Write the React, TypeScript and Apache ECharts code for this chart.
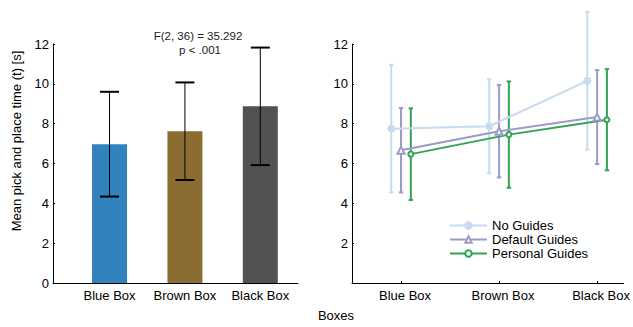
import React, { useEffect, useRef } from "react";
import * as echarts from "echarts";

const categories = ["Blue Box", "Brown Box", "Black Box"];
const barMeans = [6.97, 7.62, 8.87];
const barErrs = [2.63, 2.45, 2.95];
const barColors = ["#3182bd", "#8c6d31", "#525252"];

const seriesNames = ["No Guides", "Default Guides", "Personal Guides"];
const seriesColors = ["#c6dbef", "#9e9ac8", "#31a354"];
const seriesOffsets = [-0.1, 0, 0.1];
const noGuidesMeans = [7.75, 7.87, 10.15];
const noGuidesErrs = [3.2, 2.36, 3.46];
const defaultMeans = [6.67, 7.62, 8.33];
const defaultErrs = [2.12, 2.32, 2.36];
const personalMeans = [6.47, 7.45, 8.2];
const personalErrs = [2.3, 2.67, 2.54];
const yTicks = [0, 2, 4, 6, 8, 10, 12];

const FONT = "Liberation Sans, Arial, sans-serif";
const asterisk =
  "path://M-0.6,-5L0.6,-5L0.6,5L-0.6,5Z M-5,-0.6L5,-0.6L5,0.6L-5,0.6Z M-4,-3.2L-3.2,-4L4,3.2L3.2,4Z M3.2,-4L4,-3.2L-3.2,4L-4,3.2Z";
const symbols = [asterisk, "emptyTriangle", "emptyCircle"];
const symbolSizes = [7, 7, 5];

export default function App() {
  const ref = useRef<HTMLDivElement>(null);
  useEffect(() => {
    if (!ref.current) return;
    const chart = echarts.init(ref.current, undefined, { renderer: "svg" });

    const errRender = (color: string, stemW: number, capHalf: number, capW: number) =>
      (params: any, api: any) => {
        const x = api.value(0);
        const lo = api.value(1);
        const hi = api.value(2);
        const pHi = api.coord([x, hi]);
        const pLo = api.coord([x, lo]);
        return {
          type: "group",
          children: [
            { type: "line", shape: { x1: pHi[0], y1: pHi[1], x2: pLo[0], y2: pLo[1] }, style: { stroke: color, lineWidth: stemW } },
            { type: "line", shape: { x1: pHi[0] - capHalf, y1: pHi[1], x2: pHi[0] + capHalf, y2: pHi[1] }, style: { stroke: color, lineWidth: capW } },
            { type: "line", shape: { x1: pLo[0] - capHalf, y1: pLo[1], x2: pLo[0] + capHalf, y2: pLo[1] }, style: { stroke: color, lineWidth: capW } },
          ],
        };
      };

    const groupMeans = [noGuidesMeans, defaultMeans, personalMeans];
    const groupErrs = [noGuidesErrs, defaultErrs, personalErrs];

    const axisLine = { show: true, lineStyle: { color: "#000", width: 1 } };
    const yAxisBase = {
      type: "value" as const,
      min: 0,
      max: 12,
      interval: 2,
      axisLine,
      axisTick: { show: true, inside: true, length: 2, lineStyle: { color: "#000" } },
      splitLine: { show: false },
    };

    const option: any = {
      animation: false,
      textStyle: { fontFamily: FONT },
      grid: [
        { left: 53, top: 44, width: 245, height: 239 },
        { left: 352, top: 44, width: 280, height: 239 },
      ],
      xAxis: [
        {
          type: "value",
          gridIndex: 0,
          min: 0.25,
          max: 3.5,
          axisLine,
          axisTick: { show: false },
          splitLine: { show: false },
          axisLabel: {
            customValues: [1, 2, 3],
            formatter: (v: number) => categories[Math.round(v) - 1] ?? "",
            fontSize: 13,
            color: "#000",
            fontFamily: FONT,
            margin: 6,
          },
        },
        {
          type: "value",
          gridIndex: 1,
          min: 0.5,
          max: 3.27,
          axisLine,
          axisTick: { show: true, inside: true, length: 2, customValues: [1, 2, 3], lineStyle: { color: "#000" } },
          splitLine: { show: false },
          axisLabel: {
            customValues: [1, 2, 3],
            formatter: (v: number) => categories[Math.round(v) - 1] ?? "",
            fontSize: 13,
            color: "#000",
            fontFamily: FONT,
            margin: 6,
            padding: [0, 0, 0, 8],
          },
        },
      ],
      yAxis: [
        {
          ...yAxisBase,
          gridIndex: 0,
          axisLabel: { fontSize: 13, color: "#000", fontFamily: FONT, margin: 4, formatter: (v: number) => (yTicks.includes(v) ? String(v) : "") },
        },
        {
          ...yAxisBase,
          gridIndex: 1,
          axisLabel: { fontSize: 13, color: "#000", fontFamily: FONT, margin: 4, formatter: (v: number) => (v === 0 ? "" : String(v)) },
        },
      ],
      legend: {
        data: seriesNames,
        orient: "vertical",
        left: 449,
        top: 219,
        padding: 0,
        itemWidth: 37,
        itemHeight: 8,
        itemGap: 1,
        itemTextGap: 6,
        textStyle: { fontSize: 13, color: "#000", fontFamily: FONT },
        selectedMode: false,
      },
      series: [
        {
          type: "bar",
          xAxisIndex: 0,
          yAxisIndex: 0,
          barWidth: 35,
          data: barMeans.map((m, i) => ({ value: [i + 1, m], itemStyle: { color: barColors[i] } })),
          silent: true,
        },
        {
          type: "custom",
          name: "bar-err",
          xAxisIndex: 0,
          yAxisIndex: 0,
          clip: false,
          z: 5,
          renderItem: errRender("#000", 1, 9.5, 2),
          data: barMeans.map((m, i) => [i + 1, m - barErrs[i], m + barErrs[i]]),
          silent: true,
        },
        ...seriesNames.map((name, s) => ({
          type: "custom",
          name: name + "-err",
          xAxisIndex: 1,
          yAxisIndex: 1,
          clip: false,
          z: 2,
          renderItem: errRender(seriesColors[s], 2, 2.2, 2),
          data: groupMeans[s].map((m, i) => [i + 1 + seriesOffsets[s], m - groupErrs[s][i], m + groupErrs[s][i]]),
          silent: true,
        })),
        ...seriesNames.map((name, s) => ({
          type: "line",
          name,
          xAxisIndex: 1,
          yAxisIndex: 1,
          z: 3,
          symbol: symbols[s],
          symbolSize: symbolSizes[s],
          showAllSymbol: true,
          lineStyle: { color: seriesColors[s], width: 2 },
          itemStyle: { color: seriesColors[s], borderColor: seriesColors[s], borderWidth: 1.2 },
          data: groupMeans[s].map((m, i) => [i + 1 + seriesOffsets[s], m]),
          silent: true,
        })),
      ],
      graphic: [
        {
          type: "text",
          x: 16,
          y: 141,
          rotation: Math.PI / 2,
          style: { text: "Mean pick and place time (t) [s]", fontSize: 13, fill: "#000", fontFamily: FONT, align: "center", verticalAlign: "middle" },
        },
        {
          type: "text",
          x: 198,
          y: 36,
          style: { text: "F(2, 36) = 35.292", fontSize: 11.5, fill: "#222", fontFamily: FONT, align: "center", verticalAlign: "middle" },
        },
        {
          type: "text",
          x: 200,
          y: 50,
          style: { text: "p < .001", fontSize: 11.5, fill: "#222", fontFamily: FONT, align: "center", verticalAlign: "middle" },
        },
        {
          type: "text",
          x: 336,
          y: 315,
          style: { text: "Boxes", fontSize: 13, fill: "#000", fontFamily: FONT, align: "center", verticalAlign: "middle" },
        },
      ],
    };
    chart.setOption(option);
    return () => chart.dispose();
  }, []);
  return <div ref={ref} style={{ width: 633, height: 327, position: "absolute", left: 0, top: 0, background: "#fff" }} />;
}
